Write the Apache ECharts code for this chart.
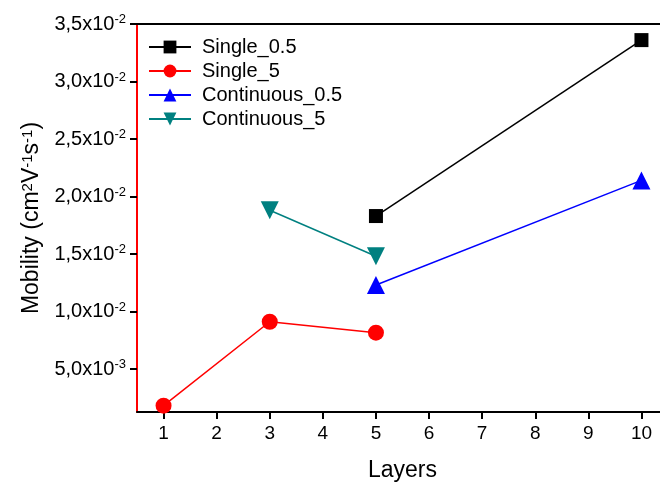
<!DOCTYPE html>
<html>
<head>
<meta charset="utf-8">
<script src="https://cdn.jsdelivr.net/npm/echarts@6/dist/echarts.min.js"></script>
<style>
  html, body { margin: 0; padding: 0; background: #fff; overflow: hidden; }
  #chart { width: 660px; height: 484px; }
</style>
</head>
<body>
<div id="chart"></div>
<script>
// Number of layers on the x axis
const layers = ['1', '2', '3', '4', '5', '6', '7', '8', '9', '10'];

// Mobility values (cm^2 V^-1 s^-1), null where a sample was not measured
const single05 = [null, null, null, null, 0.0183, null, null, null, null, 0.0336];
const single5 = [0.00181, null, 0.00911, null, 0.00816, null, null, null, null, null];
const continuous05 = [null, null, null, null, 0.0123, null, null, null, null, 0.0214];
const continuous5 = [null, null, 0.0188, null, 0.0148, null, null, null, null, null];

// Y tick positions and their labels (mantissa, exponent)
const yTickValues = [0.005, 0.010, 0.015, 0.020, 0.025, 0.030, 0.035];
const yTickMantissa = ['5,0', '1,0', '1,5', '2,0', '2,5', '3,0', '3,5'];
const yTickExponent = ['-3', '-2', '-2', '-2', '-2', '-2', '-2'];

const FONT = '"Liberation Sans", Arial, sans-serif';

const chart = echarts.init(document.getElementById('chart'), null, { renderer: 'canvas' });

function lineSeries(name, data, color, symbol, size, rotate) {
  return {
    name: name,
    type: 'line',
    data: data,
    connectNulls: true,
    symbol: symbol,
    symbolSize: size,
    symbolRotate: rotate || 0,
    showAllSymbol: true,
    clip: false,
    lineStyle: { color: color, width: 1.5 },
    itemStyle: { color: color, borderWidth: 0 },
    emphasis: { disabled: true },
    z: 3
  };
}

// superscript token: raised by bottom padding inside a taller line box
const supStyle = function (size, raise) {
  return {
    fontFamily: FONT, fontSize: size, color: '#000',
    lineHeight: size, padding: [0, 0, raise, 0], verticalAlign: 'top'
  };
};

chart.setOption({
  animation: false,
  backgroundColor: '#ffffff',
  textStyle: { fontFamily: FONT },
  grid: {
    left: 137, top: 24, width: 531, height: 388,
    outerBoundsMode: 'none',
    containLabel: false,
    show: false
  },
  legend: {
    orient: 'vertical',
    left: 143, top: 32,
    itemWidth: 42, itemHeight: 16, itemGap: 4,
    textStyle: { fontFamily: FONT, fontSize: 20, color: '#000', padding: [0, 0, 0, 6] },
    data: ['Single_0.5', 'Single_5', 'Continuous_0.5', 'Continuous_5']
  },
  xAxis: [{
    type: 'category',
    data: layers,
    boundaryGap: true,
    name: 'Layers',
    nameLocation: 'middle',
    nameGap: 47,
    nameMoveOverlap: false,
    nameTextStyle: { fontFamily: FONT, fontSize: 23, color: '#000' },
    axisLine: { show: true, lineStyle: { color: '#000', width: 2 } },
    axisTick: { show: true, alignWithLabel: true, length: 7, lineStyle: { color: '#000', width: 2 } },
    axisLabel: { fontFamily: FONT, fontSize: 19, color: '#000', margin: 12 },
    splitLine: { show: false }
  }, {
    // top frame line
    type: 'category',
    data: layers,
    position: 'top',
    axisLine: { show: true, onZero: false, lineStyle: { color: '#000', width: 2 } },
    axisTick: { show: false },
    axisLabel: { show: false },
    splitLine: { show: false }
  }],
  yAxis: {
    type: 'value',
    min: 0.00126,
    max: 0.035,
    name: 'Mobility (cm{s|2}V{s|-1}s{s|-1})',
    nameLocation: 'middle',
    nameRotate: 90,
    nameGap: 94,
    nameMoveOverlap: false,
    nameTextStyle: {
      fontFamily: FONT, fontSize: 23, color: '#000',
      rich: {
        s: supStyle(15, 20)
      }
    },
    axisLine: { show: true, lineStyle: { color: '#ff0000', width: 2 } },
    axisTick: {
      show: true, length: 7, customValues: yTickValues,
      lineStyle: { color: '#000', width: 2 }
    },
    axisLabel: {
      customValues: yTickValues,
      margin: 11,
      fontFamily: FONT, fontSize: 20, color: '#000',
      formatter: function (v) {
        let i = 0, best = Infinity;
        yTickValues.forEach(function (t, k) {
          if (Math.abs(t - v) < best) { best = Math.abs(t - v); i = k; }
        });
        return '{m|' + yTickMantissa[i] + 'x10}{e|' + yTickExponent[i] + '}';
      },
      rich: {
        m: { fontFamily: FONT, fontSize: 20, color: '#000', lineHeight: 22 },
        e: supStyle(13, 20)
      }
    },
    splitLine: { show: false }
  },
  series: [
    lineSeries('Single_0.5', single05, '#000000', 'rect', 14),
    lineSeries('Single_5', single5, '#ff0000', 'circle', 16),
    lineSeries('Continuous_0.5', continuous05, '#0000ff', 'triangle', 18),
    lineSeries('Continuous_5', continuous5, '#008080', 'triangle', 18, 180)
  ]
});
</script>
</body>
</html>
